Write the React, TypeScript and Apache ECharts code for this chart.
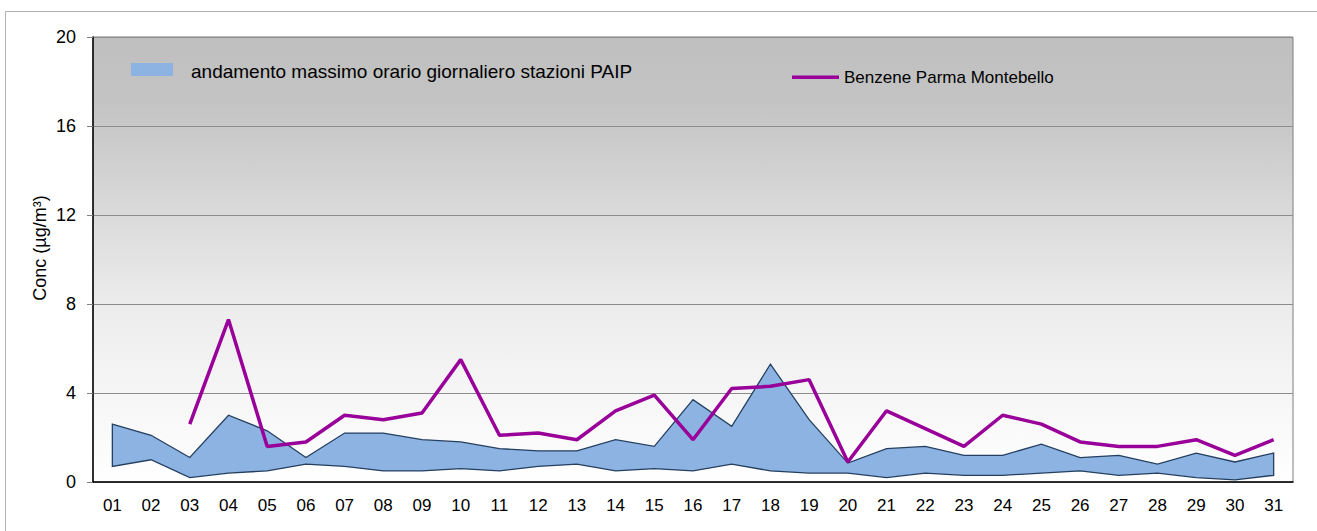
import React, { useEffect, useRef } from "react";
import * as echarts from "echarts";

const days = ["01","02","03","04","05","06","07","08","09","10","11","12","13","14","15","16","17","18","19","20","21","22","23","24","25","26","27","28","29","30","31"];
const paipMax = [2.6, 2.1, 1.1, 3.0, 2.3, 1.1, 2.2, 2.2, 1.9, 1.8, 1.5, 1.4, 1.4, 1.9, 1.6, 3.7, 2.5, 5.3, 2.8, 0.85, 1.5, 1.6, 1.2, 1.2, 1.7, 1.1, 1.2, 0.8, 1.3, 0.9, 1.3];
const paipMin = [0.7, 1.0, 0.2, 0.4, 0.5, 0.8, 0.7, 0.5, 0.5, 0.6, 0.5, 0.7, 0.8, 0.5, 0.6, 0.5, 0.8, 0.5, 0.4, 0.4, 0.2, 0.4, 0.3, 0.3, 0.4, 0.5, 0.3, 0.4, 0.2, 0.1, 0.3];
const benzene = [null, null, 2.6, 7.3, 1.6, 1.8, 3.0, 2.8, 3.1, 5.5, 2.1, 2.2, 1.9, 3.2, 3.9, 1.9, 4.2, 4.3, 4.6, 0.9, 3.2, 2.4, 1.6, 3.0, 2.6, 1.8, 1.6, 1.6, 1.9, 1.2, 1.9];
const yTicks = [0, 4, 8, 12, 16, 20];
const areaName = "andamento massimo orario giornaliero stazioni PAIP";
const lineName = "Benzene Parma Montebello";
const yTitle = "Conc (µg/m³)";

export default function App() {
  const ref = useRef<HTMLDivElement>(null);
  useEffect(() => {
    if (!ref.current) return;
    const chart = echarts.init(ref.current, null, { renderer: "svg" });
    const font = "'Liberation Sans', Arial, sans-serif";
    chart.setOption({
      animation: false,
      textStyle: { fontFamily: font },
      grid: {
        left: 93,
        top: 37,
        right: 24,
        bottom: 49,
        show: true,
        borderColor: "#7f7f7f",
        borderWidth: 1,
        backgroundColor: new echarts.graphic.LinearGradient(0, 0, 0, 1, [
          { offset: 0, color: "#bfbfbf" },
          { offset: 0.15, color: "#c4c4c4" },
          { offset: 0.6, color: "#ececec" },
          { offset: 1, color: "#ffffff" },
        ]),
      },
      xAxis: {
        type: "category",
        data: days,
        boundaryGap: true,
        axisLine: { lineStyle: { color: "#000", width: 1.5 } },
        axisTick: { show: false },
        axisLabel: { fontSize: 17, color: "#000", margin: 15, fontFamily: font, interval: 0 },
      },
      yAxis: {
        type: "value",
        min: yTicks[0],
        max: yTicks[yTicks.length - 1],
        interval: 4,
        axisLine: { show: true, lineStyle: { color: "#000", width: 1.5 } },
        axisTick: { show: true, length: 6, lineStyle: { color: "#808080" } },
        axisLabel: { fontSize: 18, color: "#000", margin: 17, fontFamily: font },
        splitLine: { show: true, lineStyle: { color: "#8c8c8c", width: 1 } },
      },
      series: [
        {
          type: "custom",
          name: areaName,
          data: [0],
          z: 2,
          renderItem: (params: any, api: any) => {
            const pts: number[][] = [];
            for (let i = 0; i < days.length; i++) pts.push(api.coord([i, paipMax[i]]));
            for (let i = days.length - 1; i >= 0; i--) pts.push(api.coord([i, paipMin[i]]));
            return {
              type: "polygon",
              shape: { points: pts },
              style: { fill: "#8db3e2", stroke: "#243f60", lineWidth: 1.3 },
            };
          },
        },
        {
          type: "line",
          name: lineName,
          data: benzene,
          z: 3,
          symbol: "none",
          connectNulls: false,
          lineStyle: { color: "#990099", width: 3.5 },
        },
      ],
      graphic: [
        {
          type: "rect",
          shape: { x: 5.5, y: 11.5, width: 1400, height: 600 },
          style: { fill: "none", stroke: "#b3b3b3", lineWidth: 1 },
          silent: true,
        },
        {
          type: "text",
          x: 40,
          y: 248,
          rotation: Math.PI / 2,
          style: { text: yTitle, fontSize: 18, fill: "#000", font: `18px ${font}`, textAlign: "center", textVerticalAlign: "middle" },
          z: 10,
        },
        {
          type: "rect",
          shape: { x: 131, y: 63, width: 42, height: 13 },
          style: { fill: "#8db3e2" },
          z: 10,
        },
        {
          type: "text",
          x: 191,
          y: 71,
          style: { text: areaName, fontSize: 19, fill: "#000", font: `19px ${font}`, textVerticalAlign: "middle" },
          z: 10,
        },
        {
          type: "line",
          shape: { x1: 792, y1: 77.3, x2: 839, y2: 77.3 },
          style: { stroke: "#990099", lineWidth: 3.5 },
          z: 10,
        },
        {
          type: "text",
          x: 844,
          y: 77.5,
          style: { text: lineName, fontSize: 17, fill: "#000", font: `17px ${font}`, textVerticalAlign: "middle" },
          z: 10,
        },
      ],
    });
    return () => chart.dispose();
  }, []);
  return <div ref={ref} style={{ position: "fixed", left: 0, top: 0, width: 1317, height: 531, background: "#fff" }} />;
}
